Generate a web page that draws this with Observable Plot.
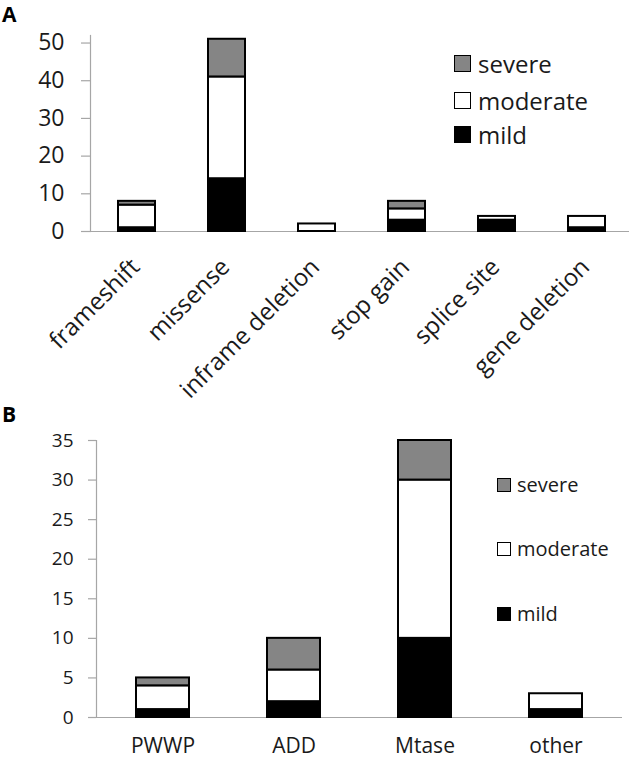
<!DOCTYPE html>
<html>
<head>
<meta charset="utf-8">
<script src="https://cdn.jsdelivr.net/npm/d3@7"></script>
<script src="https://cdn.jsdelivr.net/npm/@observablehq/plot@0.6"></script>
<style>
  html, body { margin: 0; padding: 0; background: #fff; }
  #wrap { position: relative; width: 629px; height: 759px; overflow: hidden; font-family: "Open Sans", sans-serif; color: #1a1a1a; }
  .panel { position: absolute; left: 0; }
  .letter { position: absolute; left: 2px; font-weight: bold; font-size: 21px; line-height: 29px; color: #000; }
  .lg-row { position: absolute; display: flex; align-items: center; white-space: nowrap; }
  .lg-sw { box-sizing: border-box; border: 1.6px solid #000; }
</style>
</head>
<body>
<div id="wrap">
  <div class="letter" style="top:0px">A</div>
  <div class="letter" style="top:400px">B</div>
  <div id="panelA" class="panel" style="top:0px"></div>
  <div id="panelB" class="panel" style="top:430px"></div>
</div>
<script>
// ---- Data ----
const severities = ["mild", "moderate", "severe"];
const severityColors = ["#000000", "#ffffff", "#858585"];

const mutationTypes = ["frameshift", "missense", "inframe deletion", "stop gain", "splice site", "gene deletion"];
const mutMild     = [1, 14, 0, 3, 3, 1];
const mutModerate = [6, 27, 2, 3, 1, 3];
const mutSevere   = [1, 10, 0, 2, 0, 0];
const yTicksA = [0, 10, 20, 30, 40, 50];

const domains = ["PWWP", "ADD", "Mtase", "other"];
const domMild     = [1, 2, 10, 1];
const domModerate = [3, 4, 20, 2];
const domSevere   = [1, 4, 5, 0];
const yTicksB = [0, 5, 10, 15, 20, 25, 30, 35];

function toRows(cats, mild, moderate, severe) {
  const rows = [];
  cats.forEach((c, i) => {
    [[severities[0], mild[i]], [severities[1], moderate[i]], [severities[2], severe[i]]].forEach(([s, v]) => {
      if (v > 0) rows.push({cat: c, severity: s, count: v});
    });
  });
  return rows;
}
const rowsA = toRows(mutationTypes, mutMild, mutModerate, mutSevere);
const rowsB = toRows(domains, domMild, domModerate, domSevere);

const axisGray = "#a6a6a6";

// ---- Panel A ----
const plotA = Plot.plot({
  width: 629, height: 395,
  marginTop: 35, marginBottom: 164, marginLeft: 90, marginRight: 0,
  style: {fontFamily: "Open Sans, sans-serif", fontSize: "23px", color: "#1a1a1a", background: "transparent", overflow: "visible"},
  x: {domain: mutationTypes, range: [90, 633], paddingInner: 0.59, paddingOuter: 0.295, axis: null},
  y: {domain: [0, 52]},
  color: {domain: severities, range: severityColors},
  marks: [
    Plot.frame({anchor: "left", stroke: axisGray, strokeWidth: 1.2}),
    Plot.axisY({ticks: yTicksA, tickSize: 9, tickPadding: 17, stroke: axisGray, strokeWidth: 1.2, label: null, fontSize: 23, tickFormat: d => d}),
    Plot.ruleY([0], {stroke: axisGray, strokeWidth: 1.2}),
    Plot.barY(rowsA, Plot.stackY({x: "cat", y: "count", fill: "severity", order: severities, stroke: "#000", strokeWidth: 2})),
    Plot.text(mutationTypes, {x: d => d, text: d => d, frameAnchor: "bottom", rotate: -45, textAnchor: "end", lineAnchor: "bottom", dx: 4, dy: 37, fontSize: 24, fill: "#1a1a1a"})
  ]
});
document.getElementById("panelA").appendChild(plotA);

// ---- Panel B ----
const plotB = Plot.plot({
  width: 629, height: 329,
  marginTop: 10, marginBottom: 42, marginLeft: 96, marginRight: 7,
  style: {fontFamily: "Open Sans, sans-serif", fontSize: "19px", color: "#1a1a1a", background: "transparent", overflow: "visible"},
  x: {domain: domains, paddingInner: 0.597, paddingOuter: 0.2985},
  y: {domain: [0, 35]},
  color: {domain: severities, range: severityColors},
  marks: [
    Plot.frame({anchor: "left", stroke: axisGray, strokeWidth: 1.2}),
    Plot.axisY({ticks: yTicksB, tickSize: 8, tickPadding: 15, stroke: axisGray, strokeWidth: 1.2, label: null, fontSize: 19, tickFormat: d => d}),
    Plot.axisX({tickSize: 0, tickPadding: 21, label: null, fontSize: 21}),
    Plot.ruleY([0], {stroke: axisGray, strokeWidth: 1.2}),
    Plot.barY(rowsB, Plot.stackY({x: "cat", y: "count", fill: "severity", order: severities, stroke: "#000", strokeWidth: 2}))
  ]
});
document.getElementById("panelB").appendChild(plotB);

// ---- Legends (HTML, top-to-bottom: severe, moderate, mild) ----
function legend(left, centers, size, gap, fontSize, rowH) {
  const wrap = document.getElementById("wrap");
  const order = [2, 1, 0];
  order.forEach((si, k) => {
    const row = document.createElement("div");
    row.className = "lg-row";
    row.style.left = left + "px";
    row.style.top = (centers[k] - rowH / 2) + "px";
    row.style.height = rowH + "px";
    row.style.fontSize = fontSize + "px";
    const sw = document.createElement("span");
    sw.className = "lg-sw";
    sw.style.width = size + "px";
    sw.style.height = size + "px";
    sw.style.background = severityColors[si];
    const tx = document.createElement("span");
    tx.textContent = severities[si];
    tx.style.marginLeft = gap + "px";
    tx.style.lineHeight = rowH + "px";
    row.appendChild(sw);
    row.appendChild(tx);
    wrap.appendChild(row);
  });
}
legend(454, [63.5, 100.5, 134.5], 17, 7, 24, 33);
legend(497, [484.7, 548.8, 614.3], 14, 6, 20, 28);
</script>
</body>
</html>
